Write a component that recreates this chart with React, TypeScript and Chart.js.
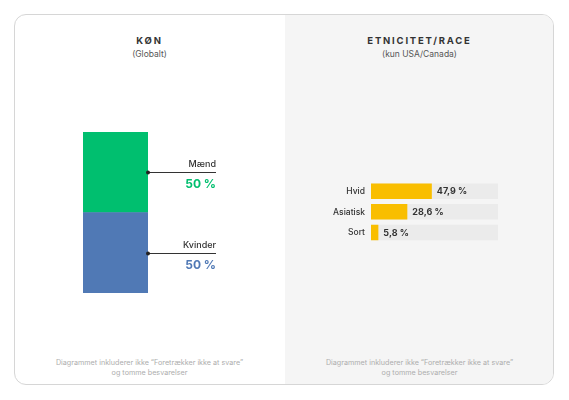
import React, { useEffect, useRef } from "react";
import { Chart, registerables } from "chart.js";

Chart.register(...registerables);

const genderLabels = ["Kvinder", "Mænd"];
const genderValues = [50, 50];
const genderColors = ["#5079b5", "#00bf6f"];

const raceLabels = ["Hvid", "Asiatisk", "Sort"];
const raceValues = [47.9, 28.6, 5.8];
const raceTrack = [100, 100, 100];

const FONT = "Inter, 'Liberation Sans', Arial, sans-serif";

const fmt = (v: number) => v.toFixed(1).replace(".", ",") + " %";

function GenderChart() {
  const ref = useRef<HTMLCanvasElement | null>(null);
  useEffect(() => {
    if (!ref.current) return;
    const leaderPlugin = {
      id: "leaders",
      afterDatasetsDraw(chart: any) {
        const ctx = chart.ctx;
        ctx.save();
        chart.data.datasets.forEach((ds: any, i: number) => {
          const meta = chart.getDatasetMeta(i);
          meta.data.forEach((el: any) => {
            const p = el.getProps(["x", "y", "base", "width"], true);
            const right = p.x + p.width / 2;
            const cy = Math.round((p.y + p.base) / 2);
            const end = right + 68;
            ctx.strokeStyle = "#333";
            ctx.lineWidth = 1;
            ctx.beginPath();
            ctx.moveTo(right, cy + 0.5);
            ctx.lineTo(end, cy + 0.5);
            ctx.stroke();
            ctx.fillStyle = "#222";
            ctx.beginPath();
            ctx.arc(right, cy + 0.5, 2, 0, Math.PI * 2);
            ctx.fill();
            ctx.textAlign = "right";
            ctx.textBaseline = "alphabetic";
            ctx.font = `500 9px ${FONT}`;
            ctx.fillStyle = "#333";
            ctx.fillText(ds.label, end, cy - 5.5);
            ctx.font = `700 12px ${FONT}`;
            ctx.fillStyle = ds.backgroundColor;
            ctx.textBaseline = "middle";
            ctx.fillText(fmt(ds.data[0]).replace(",0", ""), end, cy + 12);
          });
        });
        ctx.restore();
      },
    };
    const chart = new Chart(ref.current, {
      type: "bar",
      data: {
        labels: ["Køn"],
        datasets: genderLabels.map((l, i) => ({
          label: l,
          data: [genderValues[i]],
          backgroundColor: genderColors[i],
          borderWidth: 0,
          barPercentage: 1,
          categoryPercentage: 1,
        })),
      },
      options: {
        animation: false,
        responsive: false,
        events: [],
        layout: { padding: { left: 69, right: 137, top: 12, bottom: 17 } },
        plugins: { legend: { display: false }, tooltip: { enabled: false } },
        scales: {
          x: { stacked: true, display: false },
          y: { stacked: true, display: false, min: 0, max: 100 },
        },
      },
      plugins: [leaderPlugin],
    });
    return () => chart.destroy();
  }, []);
  return (
    <canvas
      ref={ref}
      width={271}
      height={190}
      style={{ position: "absolute", left: 14, top: 120, width: 271, height: 190 }}
    />
  );
}

function RaceChart() {
  const ref = useRef<HTMLCanvasElement | null>(null);
  useEffect(() => {
    if (!ref.current) return;
    const labelPlugin = {
      id: "raceLabels",
      afterDatasetsDraw(chart: any) {
        const ctx = chart.ctx;
        const yScale = chart.scales.y;
        const meta = chart.getDatasetMeta(0);
        ctx.save();
        ctx.textBaseline = "middle";
        raceLabels.forEach((lab, i) => {
          const y = yScale.getPixelForValue(i) + 0.5;
          ctx.font = `500 8.5px ${FONT}`;
          ctx.fillStyle = "#333";
          ctx.textAlign = "right";
          ctx.fillText(lab, chart.chartArea.left - 6, y);
          const p = meta.data[i].getProps(["x"], true);
          ctx.font = `700 9px ${FONT}`;
          ctx.textAlign = "left";
          ctx.fillText(fmt(raceValues[i]), p.x + 5, y);
        });
        ctx.restore();
      },
    };
    const chart = new Chart(ref.current, {
      type: "bar",
      data: {
        labels: raceLabels,
        datasets: [
          {
            label: "Andel",
            data: raceValues,
            backgroundColor: "#f9be00",
            borderWidth: 0,
            order: 1,
            grouped: false,
            barPercentage: 0.75,
            categoryPercentage: 1,
          } as any,
          {
            label: "Spor",
            data: raceTrack,
            backgroundColor: "#ebebeb",
            borderWidth: 0,
            order: 2,
            grouped: false,
            barPercentage: 0.75,
            categoryPercentage: 1,
          } as any,
        ],
      },
      options: {
        indexAxis: "y",
        animation: false,
        responsive: false,
        events: [],
        layout: { padding: { left: 86, right: 56, top: 10.9, bottom: 7.3 } },
        plugins: { legend: { display: false }, tooltip: { enabled: false } },
        scales: {
          x: { display: false, min: 0, max: 100 },
          y: { display: false },
        },
      },
      plugins: [labelPlugin],
    });
    return () => chart.destroy();
  }, []);
  return (
    <canvas
      ref={ref}
      width={269}
      height={80}
      style={{ position: "absolute", left: 285, top: 170, width: 269, height: 80 }}
    />
  );
}

const titleStyle: React.CSSProperties = {
  position: "absolute",
  top: 35,
  height: 12,
  lineHeight: "12px",
  textAlign: "center",
  fontFamily: FONT,
  fontWeight: 700,
  fontSize: 9.5,
  letterSpacing: 1.8,
  color: "#333",
};
const subStyle: React.CSSProperties = {
  position: "absolute",
  top: 49,
  height: 10,
  lineHeight: "10px",
  textAlign: "center",
  fontFamily: FONT,
  fontSize: 8.5,
  color: "#555",
};
const noteStyle: React.CSSProperties = {
  position: "absolute",
  top: 357.5,
  lineHeight: "10px",
  textAlign: "center",
  fontFamily: FONT,
  fontSize: 7.2,
  color: "#adadad",
};

export default function App() {
  const note = (
    <>
      Diagrammet inkluderer ikke “Foretrækker ikke at svare”
      <br />
      og tomme besvarelser
    </>
  );
  return (
    <div
      style={{
        position: "fixed",
        left: 0,
        top: 0,
        width: 569,
        height: 400,
        background: "#fff",
        overflow: "hidden",
      }}
    >
      <div
        style={{
          position: "absolute",
          left: 14,
          top: 14,
          width: 540,
          height: 371,
          boxSizing: "border-box",
          border: "1.5px solid #d6d6d6",
          borderRadius: 12,
          overflow: "hidden",
          background: "#fff",
        }}
      >
        <div
          style={{
            position: "absolute",
            left: 269.5,
            top: 0,
            right: 0,
            bottom: 0,
            background: "#f5f5f5",
          }}
        />
      </div>
      <div style={{ ...titleStyle, left: 14, width: 271 }}>KØN</div>
      <div style={{ ...subStyle, left: 14, width: 271 }}>(Globalt)</div>
      <div style={{ ...titleStyle, left: 285, width: 269 }}>ETNICITET/RACE</div>
      <div style={{ ...subStyle, left: 285, width: 269 }}>(kun USA/Canada)</div>
      <GenderChart />
      <RaceChart />
      <div style={{ ...noteStyle, left: 14, width: 271 }}>{note}</div>
      <div style={{ ...noteStyle, left: 285, width: 269 }}>{note}</div>
    </div>
  );
}
